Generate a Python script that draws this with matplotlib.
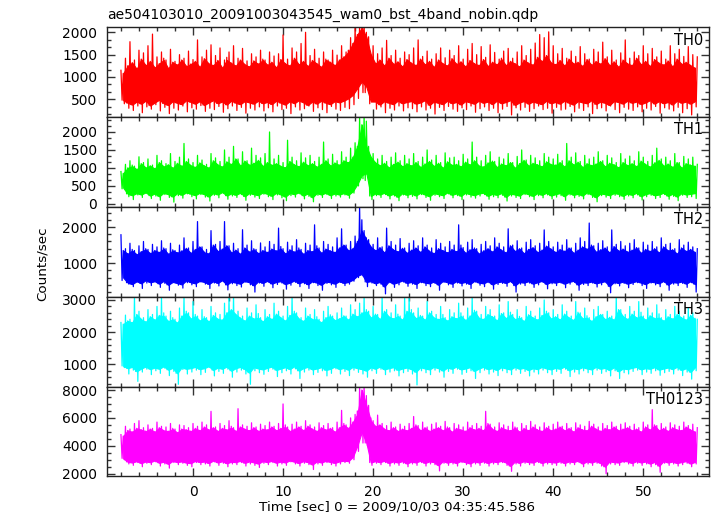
import numpy as np
import matplotlib
matplotlib.use("Agg")
import matplotlib.pyplot as plt
from matplotlib.ticker import MultipleLocator

# ---------------- data ----------------
title = "ae504103010_20091003043545_wam0_bst_4band_nobin.qdp"
xlabel = "Time [sec] 0 = 2009/10/03 04:35:45.586"
ylabel = "Counts/sec"
bands = ["TH0", "TH1", "TH2", "TH3", "TH0123"]
colors = ["#ff0000", "#00ff00", "#0000ff", "#00ffff", "#ff00ff"]

# Light curves described by their extremes, t = -8 ... 56 s in 0.5 s stretches:
#   *_hi / *_lo   : largest / smallest value of each stretch (at its start / 3/4 point)
#   *_hi2 / *_lo2 : secondary peak / dip inside the stretch (at its 1/2 / 1/4 point)
t_start, t_step, n_bins = -8.0, 0.5, 129

th0_hi = [1150, 1420, 1790, 1380, 1600, 1540, 1700, 1960, 1450, 1560, 1380, 1620, 1350, 1500, 1420, 1580,
          1390, 1830, 1450, 1600, 1720, 1480, 1650, 1380, 1560, 1700, 1420, 1640, 1360, 1520, 1450, 1600,
          1380, 1560, 1470, 1520, 1940, 1400, 1650, 1560, 1750, 2000, 1480, 1620, 1420, 1560, 1380, 1600,
          1490, 1700, 1560, 1880, 2150, 2200, 2250, 1900, 1700, 1520, 1650, 1820, 1480, 1600, 1420, 1560,
          1500, 1650, 1830, 1460, 1580, 1400, 1520, 1650, 1430, 1600, 1480, 1700, 1400, 1620, 1750, 1500,
          1680, 1440, 1720, 1550, 1400, 1580, 1640, 1420, 1560, 1700, 1480, 1620, 1760, 1950, 1880, 2010,
          1700, 1520, 1640, 1420, 1580, 1460, 1680, 1520, 1400, 1620, 1560, 1780, 1450, 1600, 1380, 1540,
          1830, 1420, 1560, 1480, 1700, 1520, 1640, 1450, 1580, 1400, 1700, 1520, 1620, 1460, 1680, 1500,
          1450]
th0_lo = [400, 300, 250, 350, 200, 330, 280, 380, 240, 320, 180, 300, 260, 350, 220, 310,
          280, 360, 230, 300, 270, 340, 210, 290, 350, 250, 320, 190, 300, 260, 330, 240,
          310, 220, 350, 270, 300, 180, 330, 260, 290, 350, 230, 310, 270, 200, 340, 280,
          250, 320, 290, 380, 520, 650, 780, 450, 280, 330, 200, 300, 260, 350, 240, 310,
          290, 220, 330, 260, 300, 170, 320, 250, 340, 280, 230, 310, 270, 350, 210, 290,
          330, 250, 300, 200, 280, 340, 150, 310, 260, 320, 230, 290, 350, 270, 300, 190,
          320, 260, 280, 340, 220, 300, 250, 330, 180, 290, 310, 240, 350, 270, 200, 320,
          280, 250, 330, 220, 300, 260, 340, 190, 310, 280, 240, 320, 200, 290, 150, 330,
          400]
th0_hi2 = [1080, 1250, 1320, 1180, 1400, 1260, 1350, 1210, 1300, 1420, 1190, 1330, 1270, 1380, 1240, 1290,
           1350, 1220, 1410, 1300, 1260, 1370, 1200, 1440, 1310, 1250, 1380, 1280, 1230, 1360, 1290, 1400,
           1270, 1330, 1210, 1390, 1300, 1250, 1420, 1280, 1350, 1240, 1370, 1300, 1220, 1400, 1330, 1260,
           1380, 1450, 1600, 1750, 1950, 2100, 2000, 1500, 1300, 1380, 1250, 1420, 1290, 1340, 1230, 1390,
           1310, 1260, 1400, 1280, 1350, 1220, 1380, 1300, 1250, 1410, 1290, 1340, 1230, 1370, 1300, 1260,
           1390, 1240, 1330, 1280, 1420, 1260, 1350, 1300, 1230, 1380, 1310, 1270, 1440, 1350, 1480, 1320,
           1280, 1370, 1250, 1400, 1300, 1330, 1240, 1390, 1270, 1350, 1290, 1410, 1260, 1340, 1220, 1380,
           1300, 1260, 1420, 1280, 1350, 1240, 1390, 1310, 1270, 1360, 1230, 1400, 1290, 1330, 1260, 1200]
th0_lo2 = [480, 420, 380, 450, 400, 470, 360, 430, 490, 410, 370, 460, 420, 390, 480, 440,
           400, 460, 370, 430, 480, 410, 450, 380, 470, 420, 390, 460, 430, 400, 470, 410,
           440, 390, 470, 420, 380, 460, 410, 480, 430, 370, 450, 400, 470, 420, 390, 460,
           430, 470, 520, 600, 750, 900, 650, 400, 450, 380, 460, 420, 390, 470, 410, 440,
           460, 400, 430, 480, 370, 450, 420, 390, 470, 410, 440, 380, 460, 430, 400, 470,
           420, 450, 390, 470, 410, 440, 480, 370, 430, 460, 400, 450, 420, 390, 470, 410,
           440, 400, 470, 420, 380, 460, 430, 410, 480, 390, 450, 420, 370, 460, 440, 400,
           470, 420, 450, 390, 430, 480, 400, 460, 410, 440, 380, 470, 420, 450, 400, 460]

th1_hi = [900, 1100, 1200, 1050, 1310, 1150, 1250, 1080, 1350, 1200, 1120, 1400, 1180, 1300, 1680, 1250,
          1150, 1350, 1220, 1100, 1400, 1280, 1180, 1500, 1300, 1600, 1250, 1450, 1200, 1550, 1350, 1280,
          1400, 2000, 1250, 1350, 1150, 1770, 1300, 1200, 1420, 1280, 1350, 1180, 1300, 1720, 1250, 1380,
          1200, 1450, 1300, 1550, 1700, 2400, 2450, 1600, 1400, 1250, 1350, 1180, 1300, 1420, 1200, 1350,
          1250, 1400, 1180, 1300, 1500, 1220, 1350, 1150, 1420, 1280, 1300, 1200, 1380, 1250, 1720, 1300,
          1200, 1350, 1450, 1180, 1300, 1250, 1400, 1150, 1320, 1500, 1220, 1350, 1280, 1200, 1400, 1300,
          1250, 1380, 1200, 1680, 1300, 1420, 1180, 1350, 1250, 1300, 1450, 1200, 1350, 1280, 1150, 1400,
          1250, 1330, 1200, 1450, 1300, 1180, 1350, 1550, 1250, 1300, 1200, 1400, 1150, 1320, 1250, 1300,
          1100]
th1_lo = [450, 200, 120, 250, 180, 300, 150, 220, 100, 260, 180, 50, 230, 160, 280, 200,
          140, 260, 190, 80, 240, 170, 300, 130, 220, 180, 260, 100, 240, 190, 150, 270,
          200, 120, 250, 170, 90, 230, 190, 280, 140, 210, 60, 240, 180, 260, 150, 220,
          190, 250, 160, 300, 500, 700, 850, 120, 230, 180, 260, 140, 220, 90, 250, 170,
          210, 140, 260, 180, 100, 240, 200, 150, 280, 170, 230, 120, 250, 190, 160, 220,
          260, 130, 200, 170, 240, 80, 220, 180, 150, 260, 200, 120, 230, 170, 250, 140,
          190, 230, 100, 250, 170, 210, 140, 260, 180, 60, 230, 190, 150, 240, 200, 130,
          220, 170, 250, 110, 200, 240, 150, 180, 260, 130, 210, 90, 240, 180, 200, 150,
          400]
th1_hi2 = [850, 1000, 1080, 960, 1120, 1010, 1060, 980, 1150, 1040, 1090, 1000, 1130, 1050, 1180, 1070,
           1020, 1140, 1060, 1000, 1200, 1090, 1030, 1170, 1100, 1250, 1060, 1190, 1080, 1130, 1210, 1050,
           1150, 1080, 1120, 1050, 1010, 1180, 1090, 1040, 1160, 1070, 1120, 1030, 1100, 1200, 1060, 1140,
           1080, 1200, 1150, 1300, 1600, 2200, 2300, 1300, 1150, 1070, 1130, 1010, 1100, 1160, 1040, 1120,
           1060, 1150, 1020, 1110, 1180, 1050, 1130, 1000, 1170, 1080, 1100, 1040, 1160, 1090, 1200, 1060,
           1030, 1140, 1190, 1020, 1110, 1070, 1150, 1000, 1120, 1210, 1060, 1130, 1090, 1040, 1170, 1100,
           1080, 1150, 1030, 1200, 1090, 1160, 1020, 1120, 1070, 1110, 1180, 1040, 1130, 1090, 1010, 1150,
           1070, 1120, 1040, 1190, 1100, 1030, 1140, 1210, 1060, 1110, 1020, 1150, 1000, 1120, 1080, 1050]
th1_lo2 = [420, 280, 240, 300, 260, 320, 230, 290, 210, 310, 270, 200, 300, 250, 320, 280,
           240, 310, 270, 200, 300, 260, 330, 230, 290, 250, 310, 210, 300, 270, 240, 320,
           280, 220, 310, 260, 200, 300, 270, 320, 230, 290, 180, 300, 260, 310, 240, 290,
           260, 300, 250, 350, 550, 800, 650, 220, 290, 260, 310, 230, 280, 190, 300, 250,
           290, 230, 310, 260, 210, 300, 270, 240, 320, 250, 290, 220, 310, 270, 240, 290,
           310, 220, 280, 250, 300, 190, 290, 260, 230, 310, 270, 220, 300, 250, 310, 230,
           270, 300, 210, 310, 250, 280, 230, 320, 260, 180, 290, 270, 240, 300, 280, 220,
           290, 250, 310, 210, 270, 300, 240, 260, 310, 220, 280, 200, 300, 260, 280, 300]

th2_hi = [1785, 1400, 1550, 1350, 1480, 1600, 1380, 1520, 1450, 1620, 1400, 1550, 1350, 1500, 1700, 1420,
          1600, 2150, 1450, 1380, 1900, 1520, 1600, 2150, 1480, 1550, 1400, 1925, 1500, 1620, 1380, 1560,
          1450, 1600, 1520, 1970, 1400, 1580, 1480, 1650, 1380, 1550, 1500, 2060, 1420, 1600, 1520, 1450,
          1700, 1950, 1500, 1600, 1750, 2550, 1900, 1650, 1520, 1700, 1450, 1970, 1600, 1500, 1680, 1420,
          1550, 1620, 1480, 1700, 1500, 1420, 1650, 1550, 1450, 1600, 1500, 2060, 1430, 1580, 1650, 1400,
          1520, 1600, 1480, 1700, 1550, 1450, 1950, 1500, 1620, 1420, 1580, 1650, 1480, 1550, 1920, 1600,
          1450, 1580, 1500, 1650, 1420, 1550, 1700, 1600, 2110, 1480, 1550, 1620, 1450, 1920, 1520, 1600,
          1480, 1550, 1650, 1420, 1580, 1500, 1600, 1450, 1700, 1520, 1550, 1400, 1650, 1500, 1580, 1450,
          1400]
th2_lo = [600, 420, 350, 480, 300, 450, 380, 500, 330, 440, 250, 470, 390, 310, 460, 400,
          350, 480, 420, 300, 450, 370, 490, 260, 430, 380, 340, 470, 400, 200, 450, 360,
          480, 320, 410, 450, 280, 390, 470, 350, 430, 300, 460, 380, 250, 440, 400, 330,
          470, 380, 420, 500, 600, 650, 350, 450, 380, 420, 150, 460, 330, 400, 480, 360,
          420, 300, 460, 380, 350, 440, 250, 470, 400, 330, 450, 370, 420, 300, 480, 390,
          350, 460, 280, 410, 440, 360, 470, 200, 420, 380, 450, 330, 400, 470, 290, 430,
          380, 450, 320, 420, 470, 250, 410, 380, 450, 340, 400, 460, 180, 430, 370, 440,
          320, 410, 460, 380, 300, 450, 400, 350, 470, 250, 420, 380, 440, 330, 460, 200,
          500]
th2_hi2 = [1350, 1260, 1380, 1240, 1320, 1400, 1270, 1350, 1300, 1420, 1250, 1370, 1290, 1340, 1410, 1280,
           1380, 1450, 1300, 1260, 1500, 1330, 1390, 1480, 1290, 1360, 1250, 1420, 1310, 1400, 1270, 1350,
           1300, 1390, 1340, 1460, 1260, 1370, 1310, 1420, 1250, 1350, 1320, 1480, 1280, 1390, 1340, 1300,
           1420, 1500, 1350, 1400, 1600, 2200, 1700, 1450, 1350, 1430, 1290, 1480, 1370, 1320, 1410, 1280,
           1360, 1420, 1300, 1450, 1330, 1270, 1400, 1350, 1290, 1380, 1320, 1500, 1280, 1370, 1420, 1260,
           1340, 1400, 1310, 1450, 1360, 1290, 1480, 1330, 1400, 1270, 1380, 1430, 1300, 1360, 1470, 1390,
           1300, 1380, 1330, 1420, 1280, 1360, 1450, 1390, 1500, 1310, 1370, 1420, 1290, 1460, 1340, 1390,
           1310, 1360, 1430, 1280, 1380, 1330, 1400, 1290, 1450, 1350, 1370, 1260, 1420, 1330, 1380, 1300]
th2_lo2 = [520, 460, 420, 500, 440, 530, 470, 490, 430, 510, 400, 480, 450, 410, 520, 470,
           440, 510, 480, 420, 500, 450, 530, 400, 490, 460, 430, 510, 470, 380, 500, 450,
           510, 430, 480, 500, 420, 460, 520, 440, 490, 410, 500, 460, 400, 490, 470, 430,
           500, 450, 480, 540, 650, 700, 480, 500, 440, 480, 350, 500, 430, 470, 520, 450,
           480, 420, 500, 460, 440, 490, 400, 510, 470, 430, 500, 450, 480, 420, 510, 460,
           440, 500, 410, 470, 490, 450, 510, 380, 480, 460, 500, 430, 470, 510, 420, 480,
           460, 490, 430, 480, 510, 400, 470, 460, 490, 440, 470, 500, 360, 480, 450, 490,
           430, 470, 500, 460, 420, 490, 470, 440, 510, 400, 480, 460, 490, 430, 500, 420]

th3_hi = [2300, 2530, 2400, 3100, 2650, 2450, 2700, 2550, 2800, 3100, 2500, 2650, 2400, 2750, 3100, 2600,
          2950, 2500, 2700, 2450, 2800, 2600, 2550, 2900, 3100, 3150, 2650, 2500, 2750, 2600, 2850, 2450,
          2700, 2550, 2900, 2650, 2500, 2800, 3100, 2600, 2450, 2750, 2550, 2700, 2400, 2650, 2800, 2500,
          2600, 2750, 2500, 2850, 2700, 2900, 3100, 2650, 2800, 2550, 3100, 2700, 2600, 2850, 2500, 3100,
          3150, 2600, 2750, 2500, 2950, 2650, 2550, 2800, 2450, 2700, 2600, 2900, 2500, 2750, 3100, 2650,
          2550, 2800, 2700, 2500, 2850, 2600, 2950, 2550, 2700, 2450, 2800, 2650, 2500, 2750, 3000, 2600,
          2700, 2550, 2850, 2650, 2500, 2950, 2600, 2750, 2450, 2700, 2800, 2550, 2650, 2500, 3100, 2700,
          2550, 2800, 2650, 2950, 2500, 2750, 2600, 2850, 2450, 2700, 2550, 2800, 2650, 2500, 2750, 2600,
          2400]
th3_lo = [900, 700, 820, 470, 760, 850, 680, 800, 720, 880, 650, 780, 380, 840, 700, 760,
          820, 680, 750, 900, 640, 780, 720, 850, 600, 760, 820, 700, 380, 800, 740, 690,
          780, 850, 620, 740, 800, 700, 860, 560, 760, 820, 680, 750, 800, 640, 720, 860,
          700, 780, 650, 820, 750, 700, 600, 800, 720, 850, 680, 760, 800, 640, 740, 780,
          700, 360, 800, 740, 680, 820, 760, 600, 780, 720, 850, 690, 750, 800, 560, 740,
          820, 700, 760, 650, 800, 740, 680, 820, 720, 780, 640, 760, 700, 820, 740, 680,
          780, 720, 850, 620, 760, 700, 800, 740, 680, 820, 720, 770, 640, 800, 560, 740,
          700, 780, 820, 680, 760, 720, 800, 660, 740, 780, 700, 820, 650, 760, 540, 800,
          850]
th3_hi2 = [2250, 2350, 2300, 2550, 2400, 2320, 2480, 2380, 2520, 2600, 2340, 2450, 2290, 2500, 2650, 2420,
           2550, 2360, 2480, 2330, 2520, 2410, 2380, 2600, 2700, 2550, 2440, 2350, 2500, 2420, 2580, 2330,
           2480, 2400, 2560, 2450, 2350, 2520, 2650, 2420, 2340, 2500, 2400, 2480, 2300, 2450, 2540, 2370,
           2420, 2510, 2380, 2560, 2480, 2600, 2700, 2450, 2560, 2400, 2650, 2480, 2420, 2560, 2380, 2650,
           2700, 2430, 2520, 2380, 2600, 2450, 2400, 2550, 2350, 2480, 2420, 2600, 2370, 2500, 2680, 2440,
           2400, 2550, 2480, 2360, 2580, 2430, 2620, 2400, 2490, 2340, 2540, 2450, 2380, 2520, 2650, 2420,
           2480, 2390, 2560, 2450, 2370, 2620, 2430, 2510, 2340, 2480, 2550, 2400, 2460, 2380, 2700, 2490,
           2400, 2560, 2450, 2620, 2380, 2510, 2430, 2570, 2350, 2480, 2410, 2550, 2450, 2380, 2520, 2430]
th3_lo2 = [950, 880, 920, 780, 870, 930, 850, 900, 860, 940, 830, 890, 720, 910, 860, 880,
           920, 850, 880, 940, 820, 900, 860, 930, 800, 880, 920, 850, 740, 910, 870, 840,
           890, 930, 820, 870, 910, 850, 940, 800, 880, 920, 840, 870, 910, 820, 860, 930,
           850, 890, 830, 920, 880, 850, 800, 910, 860, 930, 840, 880, 910, 820, 870, 900,
           850, 760, 910, 870, 840, 920, 880, 800, 900, 860, 930, 840, 870, 910, 790, 870,
           920, 850, 880, 820, 910, 870, 840, 920, 860, 890, 820, 880, 850, 920, 870, 840,
           890, 860, 930, 810, 880, 850, 910, 870, 840, 920, 860, 890, 820, 910, 780, 870,
           850, 890, 920, 840, 880, 860, 910, 830, 870, 900, 850, 920, 820, 880, 760, 910]

th0123_hi = [4800, 5400, 5200, 5600, 5800, 5300, 5500, 5250, 5700, 5400, 5350, 5600, 5200, 5500, 5450, 5300,
             5600, 5400, 5700, 5500, 6470, 5350, 5600, 5450, 5800, 5300, 6660, 5500, 5400, 5650, 5350, 5550,
             5450, 5700, 5400, 5600, 7000, 5350, 5550, 5700, 5400, 5800, 5500, 5350, 5650, 5450, 5600, 5300,
             5700, 6540, 5500, 6000, 6250, 8200, 8250, 6900, 5800, 6200, 5600, 5450, 5700, 5350, 5550, 5400,
             5600, 6100, 5450, 5700, 5350, 5550, 5650, 5400, 5750, 5300, 5600, 5500, 5350, 5700, 5450, 5600,
             5400, 6470, 5550, 5350, 5650, 5500, 5400, 5700, 5300, 5600, 5450, 5750, 5500, 5350, 5650, 5400,
             5550, 5700, 5400, 5600, 5300, 5650, 5500, 5400, 5750, 5550, 5350, 5600, 5450, 5700, 5400, 5550,
             5650, 5400, 5550, 5300, 5700, 5500, 6590, 5450, 5600, 5350, 5650, 5500, 5400, 5700, 5450, 5550,
             5300]
th0123_lo = [3000, 2700, 2600, 2800, 2500, 2750, 2650, 2850, 2550, 2700, 2400, 2800, 2650, 2750, 2600, 2500,
             2800, 2650, 2700, 2550, 2850, 2600, 2750, 2500, 2700, 2650, 2800, 2550, 2700, 2600, 2450, 2750,
             2650, 2800, 2550, 2700, 2600, 2850, 2700, 2550, 2750, 2650, 2300, 2700, 2600, 2800, 2650, 2550,
             2700, 2800, 2750, 3000, 3600, 4200, 4000, 2600, 2750, 2650, 2800, 2550, 2700, 2600, 2750, 2500,
             2700, 2600, 2800, 2550, 2700, 2650, 2200, 2750, 2600, 2700, 2550, 2800, 2650, 2500, 2700, 2600,
             2750, 2550, 2700, 2650, 2800, 2600, 2170, 2700, 2550, 2750, 2650, 2600, 2800, 2550, 2700, 2650,
             2600, 2750, 2550, 2700, 2650, 2800, 2500, 2700, 2600, 2750, 2550, 2000, 2700, 2650, 2600, 2800,
             2700, 2550, 2750, 2600, 2700, 2500, 2650, 2100, 2750, 2600, 2700, 2550, 2650, 2750, 2500, 2700,
             2900]
th0123_hi2 = [4700, 5100, 5000, 5250, 5150, 5050, 5200, 5000, 5300, 5100, 5050, 5250, 4950, 5200, 5150, 5050,
              5250, 5100, 5350, 5150, 5300, 5050, 5250, 5150, 5400, 5050, 5350, 5200, 5100, 5300, 5050, 5200,
              5150, 5350, 5100, 5250, 5500, 5050, 5200, 5350, 5100, 5400, 5200, 5050, 5300, 5150, 5250, 5000,
              5300, 5600, 5250, 5700, 6500, 8000, 7600, 6000, 5400, 5500, 5200, 5100, 5300, 5050, 5200, 5100,
              5250, 5500, 5100, 5300, 5050, 5200, 5300, 5100, 5350, 5000, 5250, 5150, 5050, 5300, 5150, 5250,
              5100, 5600, 5200, 5050, 5300, 5150, 5100, 5350, 5000, 5250, 5100, 5350, 5150, 5050, 5300, 5100,
              5200, 5350, 5100, 5250, 5000, 5300, 5150, 5100, 5400, 5200, 5050, 5250, 5150, 5350, 5100, 5200,
              5300, 5100, 5200, 5000, 5350, 5150, 5500, 5100, 5250, 5050, 5300, 5150, 5100, 5350, 5150, 5000]
th0123_lo2 = [3100, 2850, 2800, 2900, 2750, 2880, 2820, 2950, 2780, 2860, 2700, 2920, 2830, 2880, 2790, 2750,
              2920, 2830, 2870, 2760, 2940, 2800, 2890, 2740, 2860, 2820, 2930, 2770, 2880, 2810, 2720, 2900,
              2830, 2920, 2780, 2870, 2800, 2950, 2860, 2760, 2900, 2830, 2650, 2880, 2800, 2920, 2840, 2770,
              2880, 2930, 2900, 3200, 4000, 5000, 4200, 2800, 2900, 2820, 2930, 2760, 2880, 2800, 2900, 2720,
              2870, 2800, 2930, 2760, 2880, 2830, 2600, 2900, 2790, 2870, 2760, 2920, 2820, 2730, 2880, 2800,
              2900, 2760, 2880, 2830, 2920, 2800, 2550, 2880, 2770, 2900, 2830, 2800, 2930, 2760, 2870, 2830,
              2800, 2900, 2760, 2880, 2830, 2930, 2720, 2880, 2800, 2900, 2760, 2500, 2880, 2830, 2800, 2920,
              2880, 2760, 2900, 2800, 2870, 2720, 2840, 2550, 2900, 2800, 2870, 2760, 2830, 2900, 2720, 2850]

his = [th0_hi, th1_hi, th2_hi, th3_hi, th0123_hi]
los = [th0_lo, th1_lo, th2_lo, th3_lo, th0123_lo]
his2 = [th0_hi2, th1_hi2, th2_hi2, th3_hi2, th0123_hi2]
los2 = [th0_lo2, th1_lo2, th2_lo2, th3_lo2, th0123_lo2]

ylims = [(102, 2112), (-83, 2413), (72, 2556), (311, 3102), (1814, 8251)]
ymajor = [500, 500, 1000, 1000, 2000]
yminor = [500 / 3, 500 / 3, 200, 200, 500]
xlim = (-9.55, 57.3)

# ---------------- figure ----------------
plt.rcParams['font.family'] = ['DejaVu Sans']
fig = plt.figure(figsize=(7.17, 5.16), dpi=100)
left, right = 107 / 717, 709 / 717
top, bottom = 1 - 27.3 / 516, 1 - 476.3 / 516
h = (top - bottom) / 5

t = t_start + t_step * np.arange(n_bins)
q = t_step / 4
for k in range(5):
    ax = fig.add_axes([left, top - (k + 1) * h, right - left, h])
    hi = np.asarray(his[k], float)
    lo = np.asarray(los[k], float)
    hi2 = np.asarray(his2[k], float)
    lo2 = np.asarray(los2[k], float)
    n = n_bins - 1
    # zig-zag through the extremes of every stretch
    x = np.empty(4 * n + 1)
    y = np.empty(4 * n + 1)
    x[0:-1:4], y[0:-1:4] = t[:-1], hi[:-1]
    x[1::4], y[1::4] = t[:-1] + q, lo2
    x[2::4], y[2::4] = t[:-1] + 2 * q, hi2
    x[3::4], y[3::4] = t[:-1] + 3 * q, lo[:-1]
    x[-1], y[-1] = t[-1], hi[-1]
    # the band that the zig-zag always crosses (fully covered in the dense original)
    band_top = np.minimum(np.minimum(hi[:-1], hi2), hi[1:])
    band_bot = np.maximum(lo2, lo[:-1])
    ax.fill_between(t[:-1] + 2 * q, band_bot, band_top, color=colors[k], lw=0.8)
    ax.plot(x, y, color=colors[k], lw=0.9)
    ax.set_xlim(*xlim)
    ax.set_ylim(*ylims[k])
    ax.xaxis.set_major_locator(MultipleLocator(10))
    ax.xaxis.set_minor_locator(MultipleLocator(2))
    ax.yaxis.set_major_locator(MultipleLocator(ymajor[k]))
    ax.yaxis.set_minor_locator(MultipleLocator(yminor[k]))
    ax.tick_params(which='both', direction='in', top=True, right=True,
                   colors='#333333', labelcolor='black', labelsize=10)
    ax.tick_params(axis='y', which='major', pad=7)
    ax.tick_params(axis='x', which='major', pad=6)
    ax.tick_params(which='major', length=6, width=1)
    ax.tick_params(which='minor', length=3, width=1)
    for s in ax.spines.values():
        s.set_linewidth(1.0)
        s.set_color('#222222')
    if k < 4:
        ax.tick_params(labelbottom=False)
    ax.text(0.99, 0.94, bands[k], transform=ax.transAxes, ha='right', va='top', fontsize=10.5)

fig.text(107 / 717, 1 - 15 / 516, title, ha='left', va='center', fontsize=10)
fig.text(397 / 717, 1 - 507 / 516, xlabel, ha='center', va='center', fontsize=9.7)
fig.text(42 / 717, 1 - 264 / 516, ylabel, ha='center', va='center', rotation=90, fontsize=9.7)

fig.savefig("out.png", dpi=100)
